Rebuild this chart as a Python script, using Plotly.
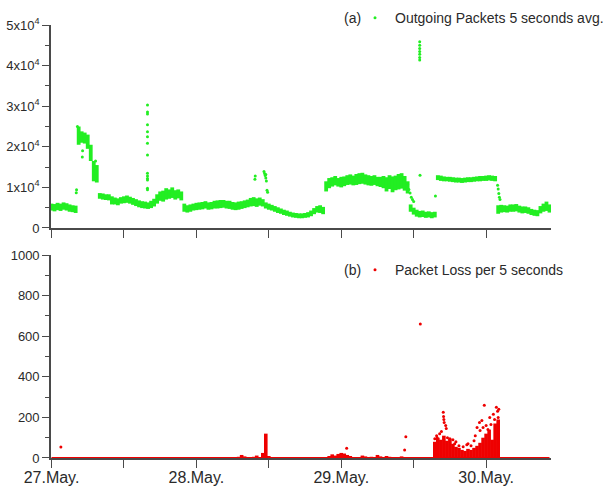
import numpy as np
import pandas as pd
import plotly.graph_objects as go

T0 = pd.Timestamp("2010-05-27 00:00")

# Half-hour bins, hours after 27 May 00:00
bin_hours = np.arange(166) * 0.5

# Outgoing packets (5 s averages): min / max inside each half-hour bin
out_lo = [
    4300, 4100, 4400, 4200, 4500, 4300, 4000, 3900, 3700, 20500,
    21000, 20800, 19500, 16500, 11500, 11200, 7200, 7000, 6900, 6800,
    5800, 5800, 5600, 6000, 6100, 6200, 6000, 5700, 5400, 5100,
    4900, 4800, 4700, 4900, 5300, 6000, 6700, 6500, 7000, 7200,
    7400, 7000, 7300, 6800, 4000, 3800, 4000, 4300, 4400, 4500,
    4600, 4800, 4500, 4600, 4800, 4800, 4900, 5000, 4800, 4700,
    4500, 4400, 4500, 4700, 4900, 5100, 5300, 5400, 5200, 5500,
    5300, 4800, 4500, 4300, 4000, 3700, 3500, 3200, 3000, 2800,
    2600, 2500, 2400, 2400, 2500, 2600, 2900, 3400, 3800, 3700,
    3400, 9000, 9800, 10200, 10500, 10200, 10000, 10300, 10600, 10700,
    10500, 10600, 10800, 10900, 10700, 10500, 10400, 10600, 10300, 10100,
    9800, 9000, 9600, 8800, 9300, 9500, 9700, 9200, 8500, 4000,
    3300, 2800, 2600, 2700, 2500, 2600, 2400, 2600, 11800, 11600,
    11500, 11500, 11400, 11300, 11200, 11200, 11100, 11200, 11300, 11300,
    11400, 11500, 11500, 11600, 11600, 11700, 11600, 11500, 3500, 3800,
    3900, 3800, 4000, 4000, 4100, 3800, 3600, 3700, 3500, 3200,
    3000, 2900, 3600, 4000, 4200, 3800,
]
out_hi = [
    6000, 5900, 6200, 6000, 6300, 6100, 5800, 5600, 5500, 25000,
    23800, 23500, 23000, 20500, 16500, 15500, 8600, 8500, 8300, 8300,
    7800, 7500, 7300, 7600, 7800, 8000, 7700, 7400, 7100, 6800,
    6600, 6500, 6300, 6700, 7200, 8300, 9000, 9200, 9800, 9500,
    10000, 9300, 9500, 9000, 6000, 5600, 5800, 6000, 6200, 6300,
    6400, 6600, 6300, 6400, 6700, 6800, 6900, 6900, 6700, 6700,
    6400, 6300, 6500, 6600, 6800, 7000, 7400, 7600, 7300, 7500,
    7100, 6300, 6000, 5700, 5400, 5100, 4800, 4500, 4300, 4000,
    3800, 3700, 3600, 3600, 3700, 3900, 4300, 4900, 5400, 5600,
    5200, 11500, 12300, 12500, 12800, 12300, 12600, 12700, 13000, 13200,
    12900, 13300, 13500, 13600, 13200, 13000, 12800, 13000, 12600, 12600,
    12800, 12500, 13000, 12700, 12900, 13300, 13500, 12800, 11500, 5800,
    5000, 4500, 4200, 4300, 4000, 4100, 3900, 4000, 13000, 12900,
    12700, 12600, 12600, 12500, 12400, 12400, 12300, 12400, 12500, 12500,
    12600, 12700, 12800, 12800, 12900, 13000, 12900, 12800, 5600, 5700,
    5600, 5500, 5800, 5800, 5900, 5500, 5300, 5300, 5100, 4700,
    4500, 4400, 5400, 6000, 6500, 5800,
]

# Isolated outgoing-packet samples outside the bands
out_pt_hours = [
    4.1, 4.15, 4.3, 5.1, 5.15, 7.3,
    15.9, 15.9, 15.9, 15.9, 15.9, 15.9, 15.9, 15.9, 15.9, 15.9, 15.9, 15.9, 15.9, 15.9,
    33.7, 33.75, 35.2, 35.3, 35.4, 35.5, 35.6, 35.5, 35.7, 35.8,
    59.0, 59.2, 59.4, 59.6, 59.8, 60.0,
    61.0, 61.0, 61.0, 61.0, 61.0, 61.0, 61.0, 61.05,
    63.6,
    73.9, 74.0, 74.1, 74.2, 74.3,
]
out_pt_vals = [
    8700, 9400, 25000, 17500, 19000, 16500,
    30300, 28600, 28100, 25400, 23700, 22500, 20900, 18000, 13500, 12800, 12200, 11800, 9800, 9400,
    12000, 12800, 13900, 13400, 12900, 12300, 11600, 13200, 9300, 8800,
    10700, 9500, 8600, 7600, 7000, 6500,
    45900, 45000, 44200, 43500, 42800, 42000, 41400, 13000,
    7900,
    10500, 9600, 8500, 7600, 7000,
]

# Packet loss per 5 s: max inside each half-hour bin (the minimum is 0 in every bin)
loss_max = [
    0, 0, 0, 0, 0, 0, 0, 0, 0, 0,
    0, 0, 0, 0, 0, 0, 0, 0, 0, 0,
    0, 0, 0, 0, 0, 0, 0, 0, 0, 0,
    0, 0, 0, 0, 0, 0, 0, 0, 0, 0,
    0, 0, 0, 0, 0, 0, 0, 0, 0, 0,
    0, 0, 0, 0, 0, 0, 0, 0, 0, 0,
    0, 0, 6, 15, 8, 0, 0, 6, 12, 0,
    25, 120, 10, 0, 0, 0, 0, 0, 0, 0,
    0, 0, 0, 0, 0, 0, 0, 0, 0, 0,
    0, 0, 10, 18, 12, 20, 25, 22, 15, 10,
    0, 5, 0, 12, 8, 0, 6, 0, 15, 8,
    0, 10, 6, 0, 5, 0, 8, 0, 0, 0,
    0, 0, 0, 0, 0, 0, 0, 80, 100, 90,
    110, 85, 95, 70, 55, 50, 40, 35, 45, 40,
    50, 60, 75, 100, 120, 140, 90, 170, 190, 0,
    0, 0, 0, 0, 0, 0, 0, 0, 0, 0,
    0, 0, 0, 0, 0, 0,
]
loss_min = [0] * len(loss_max)

# Isolated packet-loss samples
loss_pt_hours = [
    1.55, 48.9, 58.5, 58.7, 61.1,
    63.5, 63.8, 63.9, 64.3, 64.6, 64.9, 64.95, 65.0, 65.05, 65.3, 65.4, 65.6, 66.0,
    66.5, 66.8, 67.0, 67.5, 68.2, 68.8, 69.0, 69.5, 70.0, 70.2, 70.5, 70.9, 71.0,
    71.3, 71.5, 71.7, 72.0, 72.3, 72.6, 72.8, 73.2, 73.4, 73.7, 73.9, 74.0, 74.1,
]
loss_pt_vals = [
    54, 48, 40, 105, 660,
    95, 110, 100, 120, 130, 225, 205, 190, 175, 160, 145, 100, 95,
    90, 70, 80, 60, 55, 65, 70, 60, 85, 110, 150, 175, 135,
    185, 150, 260, 160, 140, 200, 165, 215, 190, 250, 230, 200, 240,
]

GREEN = "#22ee22"
RED = "#ee0000"
AXIS = "#4a4a4a"
TEXT = "#2a2a2a"
FONT = "Liberation Sans, Arial, sans-serif"


def to_time(hours):
    return [T0 + pd.Timedelta(hours=float(h)) for h in hours]


def range_segments(hours, lo, hi):
    xs, ys = [], []
    for t, a, b in zip(to_time(hours), lo, hi):
        xs += [t, t, None]
        ys += [a, b, None]
    return xs, ys


fig = go.Figure()

# (a) outgoing packets
gx, gy = range_segments(bin_hours, out_lo, out_hi)
fig.add_trace(go.Scatter(x=gx, y=gy, mode="lines", line=dict(color=GREEN, width=3.8),
                         showlegend=False, hoverinfo="skip", xaxis="x", yaxis="y"))
fig.add_trace(go.Scatter(x=to_time(out_pt_hours), y=out_pt_vals, mode="markers",
                         marker=dict(color=GREEN, size=3),
                         name="Outgoing Packets 5 seconds avg.", legend="legend",
                         xaxis="x", yaxis="y"))

# (b) packet loss
fig.add_trace(go.Scatter(x=to_time(bin_hours), y=loss_min, mode="lines",
                         line=dict(color=RED, width=2), cliponaxis=False,
                         showlegend=False, hoverinfo="skip", xaxis="x2", yaxis="y2"))
nz = [i for i, v in enumerate(loss_max) if v > 0]
rx, ry = range_segments([bin_hours[i] for i in nz], [loss_min[i] for i in nz],
                        [loss_max[i] for i in nz])
fig.add_trace(go.Scatter(x=rx, y=ry, mode="lines", line=dict(color=RED, width=3.6),
                         showlegend=False, hoverinfo="skip", xaxis="x2", yaxis="y2"))
fig.add_trace(go.Scatter(x=to_time(loss_pt_hours), y=loss_pt_vals, mode="markers",
                         marker=dict(color=RED, size=3),
                         name="Packet Loss per 5 seconds", legend="legend2",
                         xaxis="x2", yaxis="y2"))

x_range = [T0 - pd.Timedelta(minutes=5), T0 + pd.Timedelta(hours=82.75)]
tick_times = to_time([0, 12, 24, 36, 48, 60, 72])
tick_text = ["27.May.", "", "28.May.", "", "29.May.", "", "30.May."]

xcommon = dict(type="date", range=x_range, tickmode="array", tickvals=tick_times,
               showline=True, linecolor=AXIS, linewidth=1.6, ticks="outside",
               ticklen=8, tickwidth=1.4, tickcolor=AXIS, showgrid=False,
               zeroline=False, layer="below traces",
               tickfont=dict(family=FONT, size=16, color=TEXT))
ycommon = dict(showline=True, linecolor=AXIS, linewidth=1.6, ticks="outside",
               ticklen=7, tickwidth=1.4, tickcolor=AXIS, showgrid=False,
               zeroline=False, layer="below traces",
               tickfont=dict(family=FONT, size=13, color=TEXT))

top_vals = [0, 10000, 20000, 30000, 40000, 50000]
top_text = ["0"] + [f"{k}x10<sup>4</sup>" for k in range(1, 6)]
bot_vals = [0, 200, 400, 600, 800, 1000]

fig.update_layout(
    width=605, height=488,
    margin=dict(l=51, r=54, t=25, b=30, autoexpand=False),
    paper_bgcolor="white", plot_bgcolor="white",
    xaxis=dict(xcommon, anchor="y", domain=[0, 1], showticklabels=False),
    yaxis=dict(ycommon, anchor="x", domain=[0.5312, 1], range=[0, 50000],
               tickmode="array", tickvals=top_vals, ticktext=top_text,
               minor=dict(tickmode="linear", tick0=0, dtick=5000, ticks="outside",
                          ticklen=4, tickcolor=AXIS, tickwidth=1.2)),
    xaxis2=dict(xcommon, anchor="y2", domain=[0, 1], ticktext=tick_text,
                ticklabelstandoff=-4),
    yaxis2=dict(ycommon, anchor="x2", domain=[0, 0.4688], range=[0, 1000],
                tickmode="array", tickvals=bot_vals,
                minor=dict(tickmode="linear", tick0=0, dtick=100, ticks="outside",
                           ticklen=4, tickcolor=AXIS, tickwidth=1.2)),
    legend=dict(x=0.608, y=1.016, xanchor="left", yanchor="middle",
                bgcolor="rgba(0,0,0,0)", font=dict(family=FONT, size=14, color=TEXT),
                itemsizing="trace"),
    legend2=dict(x=0.608, y=0.434, xanchor="left", yanchor="middle",
                 bgcolor="rgba(0,0,0,0)", font=dict(family=FONT, size=14, color=TEXT),
                 itemsizing="trace"),
    annotations=[
        dict(text="(a)", x=0.602, y=1.016, xref="paper", yref="paper",
             showarrow=False, xanchor="center", yanchor="middle",
             font=dict(family=FONT, size=14, color=TEXT)),
        dict(text="(b)", x=0.602, y=0.434, xref="paper", yref="paper",
             showarrow=False, xanchor="center", yanchor="middle",
             font=dict(family=FONT, size=14, color=TEXT)),
    ],
)

fig.write_html("out.html")
